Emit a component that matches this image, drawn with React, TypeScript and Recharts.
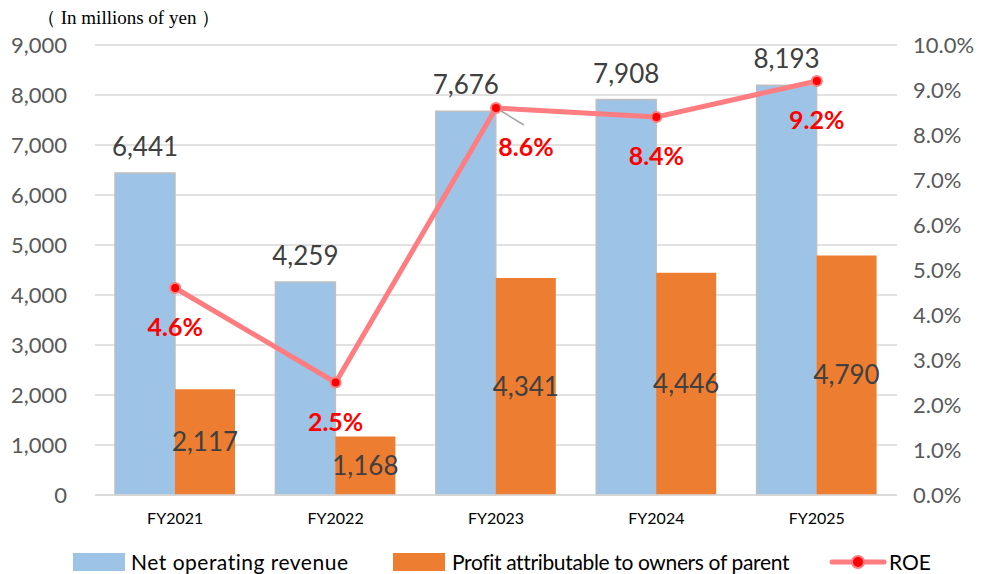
import React from 'react';
import {
  ComposedChart, Bar, Line, XAxis, YAxis, CartesianGrid, LabelList,
} from 'recharts';

const years = ['FY2021', 'FY2022', 'FY2023', 'FY2024', 'FY2025'];
const revenue = [6441, 4259, 7676, 7908, 8193];
const profit = [2117, 1168, 4341, 4446, 4790];
const roe = [4.6, 2.5, 8.6, 8.4, 9.2];
const leftTicks = [0, 1000, 2000, 3000, 4000, 5000, 6000, 7000, 8000, 9000];
const rightTicks = [0, 1, 2, 3, 4, 5, 6, 7, 8, 9, 10];

const data = years.map((name, i) => ({ name, revenue: revenue[i], profit: profit[i], roe: roe[i] }));

const FONT = 'Lato, "Noto Sans", sans-serif';
const BLUE = '#9DC3E6';
const ORANGE = '#ED7D31';
const PINK = '#FF7C80';

const RoeLabel = (props: any) => {
  const { x, y, value, index } = props;
  const shifted = index === 2;
  const lx = shifted ? x + 30 : x;
  return (
    <g>
      {shifted && <line x1={x + 5} y1={y + 3} x2={x + 28} y2={y + 17} stroke="#A6A6A6" strokeWidth={1.5} />}
      <text x={lx} y={y + 38} textAnchor="middle" dominantBaseline="central" fill="#FF0000"
        fontFamily={FONT} fontSize={25} fontWeight={700}>
        {`${Number(value).toFixed(1)}%`}
      </text>
    </g>
  );
};

function LegendRow() {
  const item = { display: 'flex', alignItems: 'center', position: 'absolute' as const, top: 0 };
  return (
    <div style={{ position: 'absolute', left: 0, top: 549, width: 982, height: 30, fontFamily: FONT, fontSize: 21, color: '#000' }}>
      <div style={{ ...item, left: 73 }}>
        <span style={{ width: 52, height: 18, background: BLUE, marginRight: 6 }} />
        <span style={{ letterSpacing: 0.5 }}>Net operating revenue</span>
      </div>
      <div style={{ ...item, left: 393 }}>
        <span style={{ width: 52, height: 18, background: ORANGE, marginRight: 7 }} />
        <span style={{ letterSpacing: -0.35 }}>Profit attributable to owners of parent</span>
      </div>
      <div style={{ ...item, left: 828 }}>
        <svg width={60} height={20} style={{ marginRight: 1 }}>
          <line x1={4} y1={10} x2={56} y2={10} stroke={PINK} strokeWidth={5} strokeLinecap="round" />
          <circle cx={30} cy={10} r={6} fill="#FF0000" stroke={PINK} strokeWidth={2} />
        </svg>
        <span>ROE</span>
      </div>
    </div>
  );
}

export default function App() {
  return (
    <div style={{ position: 'absolute', left: 0, top: 0, width: 982, height: 574, overflow: 'hidden', background: '#fff' }}>
      <div style={{ position: 'absolute', left: 37, top: 5, fontFamily: '"Liberation Serif", serif', fontSize: 19, color: '#000' }}>
        （ In millions of yen ）
      </div>
      <ComposedChart width={982} height={574} data={data} barGap={0}
        margin={{ top: 45, right: 5, bottom: 49, left: 15 }}>
        <CartesianGrid vertical={false} stroke="#D9D9D9" strokeWidth={1.5} yAxisId="left" />
        <XAxis dataKey="name" height={30} tickLine={false} tickSize={0} tickMargin={18}
          axisLine={{ stroke: '#D9D9D9', strokeWidth: 1.5 }}
          tick={{ fontSize: 16, fill: '#000', fontFamily: FONT }} />
        <YAxis yAxisId="left" orientation="left" width={80} domain={[0, 9000]} ticks={leftTicks}
          interval={0} axisLine={false} tickLine={false} tickSize={0} tickMargin={28}
          tickFormatter={(v: number) => v.toLocaleString('en-US')}
          tick={{ fontSize: 22, fill: '#595959', fontFamily: FONT }} />
        <YAxis yAxisId="right" orientation="right" width={80} domain={[0, 10]} ticks={rightTicks}
          interval={0} axisLine={false} tickLine={false} tickSize={0} tickMargin={16}
          tickFormatter={(v: number) => `${v.toFixed(1)}%`}
          tick={{ fontSize: 22, fill: '#595959', fontFamily: FONT }} />
        <Bar yAxisId="left" dataKey="revenue" fill={BLUE} stroke="#BFBFBF" strokeWidth={1.5} barSize={60} isAnimationActive={false}>
          <LabelList dataKey="revenue" position="top" offset={17}
            formatter={(v: any) => Number(v).toLocaleString('en-US')}
            style={{ fontSize: 26, fill: '#404040', fontFamily: FONT }} />
        </Bar>
        <Bar yAxisId="left" dataKey="profit" fill={ORANGE} barSize={60} isAnimationActive={false}>
          <LabelList dataKey="profit" position="center"
            formatter={(v: any) => Number(v).toLocaleString('en-US')}
            style={{ fontSize: 26, fill: '#404040', fontFamily: FONT }} />
        </Bar>
        <Line yAxisId="right" dataKey="roe" type="linear" stroke={PINK} strokeWidth={5}
          dot={{ r: 5, fill: '#FF0000', stroke: PINK, strokeWidth: 2 }} activeDot={false}
          isAnimationActive={false}>
          <LabelList dataKey="roe" content={RoeLabel} />
        </Line>
      </ComposedChart>
      <LegendRow />
    </div>
  );
}
